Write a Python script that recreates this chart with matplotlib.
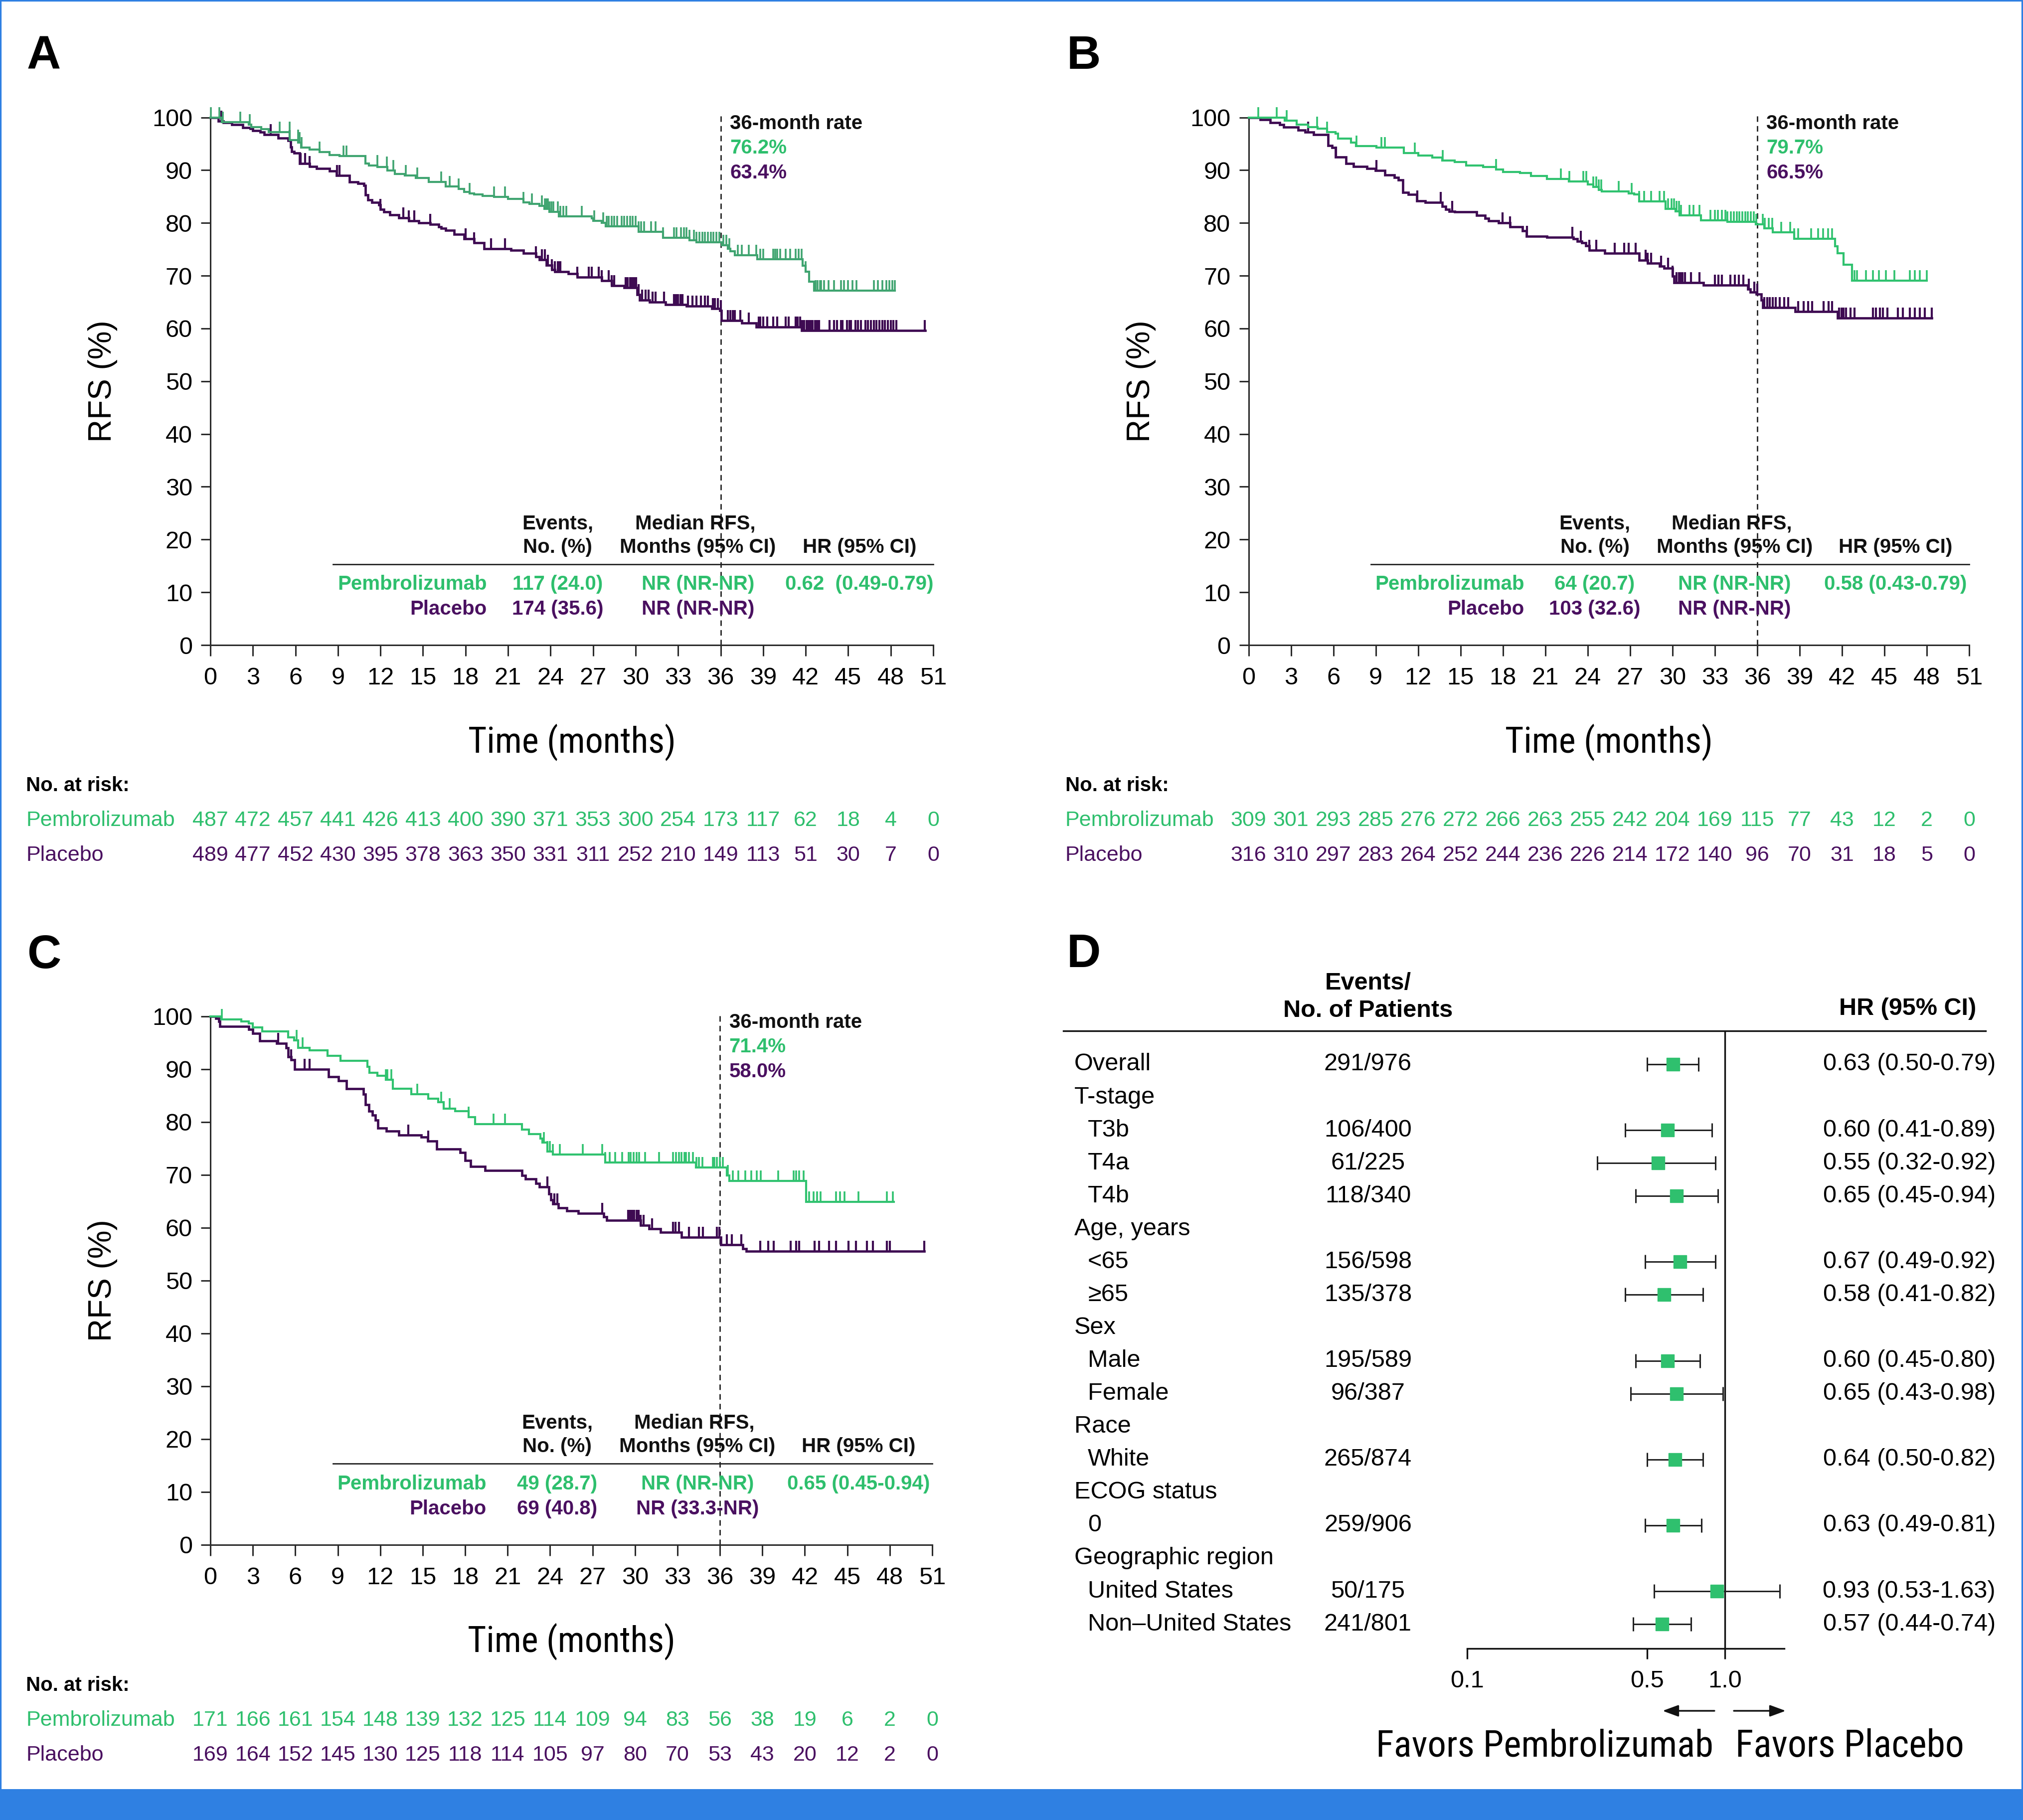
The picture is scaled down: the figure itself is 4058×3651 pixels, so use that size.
import numpy as np
import matplotlib
matplotlib.use('Agg')
import matplotlib.pyplot as plt
from matplotlib.path import Path
from matplotlib import transforms
from matplotlib import font_manager as fm
from matplotlib.patches import Rectangle, FancyArrowPatch
from matplotlib.lines import Line2D

plt.rcParams['font.family'] = ['Liberation Sans', 'DejaVu Sans']

GREEN_TXT = '#2ebf6d'
GREEN_A = '#3fa470'
GREEN = '#30c26f'
PURPLE = '#3e0b52'
PURPLE_TXT = '#4a1060'
BLUE = '#2f80e2'
AXC = '#2b2b2b'

# ---------------- data ----------------
months = list(range(0, 52, 3))

# Panel A
a_pem_t = [0.8, 2.7, 2.9, 3.6, 4.1, 5.6, 6.2, 6.4, 7.0, 7.7, 8.4, 9.1, 10.95, 11.2, 11.8, 12.5, 13.0, 13.7, 14.5, 15.4,
           16.6, 17.5, 17.9, 18.3, 18.6, 19.2, 20.0, 21.0, 22.1, 22.5, 23.2, 23.55, 23.9, 24.6, 26.9, 27.0, 27.6, 27.9,
           30.2, 31.95, 33.8, 34.3, 36.1, 36.5, 36.7, 37.0, 38.6, 41.8, 42.0, 42.25, 42.6]
a_pem_s = [99.1, 98.6, 98.2, 97.8, 97.2, 95.7, 95.2, 94.3, 93.9, 93.4, 92.9, 92.7, 91.3, 90.9, 90.6, 89.9, 89.3, 89.0,
           88.5, 87.8, 86.9, 86.4, 85.9, 85.6, 85.4, 85.1, 84.9, 84.6, 83.9, 83.6, 83.2, 82.7, 82.1, 81.2, 80.9, 80.4,
           80.0, 79.4, 78.3, 77.2, 76.7, 76.3, 75.8, 75.1, 74.6, 73.9, 73.1, 71.9, 70.8, 68.9, 67.2]
a_pem_c = [0.05, 0.65, 0.87, 2.1, 2.78, 4.9, 5.58, 6.18, 6.3, 6.45, 7.71, 9.4, 9.6, 11.77, 12.45, 12.9, 13.8, 14.6,
           16.3, 16.9, 17.5, 18.3, 20.0, 20.8, 22.1, 22.7, 23.4, 23.6, 23.7, 23.8, 23.9, 24.05, 24.2, 24.5, 24.7, 24.9,
           25.1, 26.2, 27.1, 27.7, 27.95, 28.1, 28.3, 28.5, 28.7, 29.0, 29.2, 29.4, 29.6, 29.8, 30.0, 30.2, 30.4, 30.6,
           31.1, 31.4, 31.95, 32.7, 32.9, 33.2, 33.4, 33.6, 33.8, 34.1, 34.3, 34.5, 34.7, 34.9, 35.1, 35.3, 35.5, 35.7,
           35.9, 36.2, 36.4, 36.6, 37.2, 37.5, 38.0, 38.5, 38.8, 39.0, 39.7, 39.85, 40.0, 40.2, 40.6, 40.9, 41.3, 41.5,
           41.7, 42.0, 42.7, 42.85, 43.0, 43.1, 43.3, 43.6, 44.0, 44.5, 44.7, 45.0, 45.3, 45.6, 46.8, 47.1, 47.4, 47.7,
           47.9, 48.1, 48.3]
a_pem_end = 48.3

a_pla_t = [0.56, 0.9, 1.5, 2.3, 2.8, 3.0, 3.5, 3.8, 4.8, 5.5, 5.65, 5.75, 5.9, 6.3, 7.0, 7.5, 8.4, 8.9, 9.8, 10.4,
           10.85, 10.95, 11.1, 11.4, 11.9, 12.0, 12.25, 12.65, 13.3, 14.0, 14.7, 15.5, 16.1, 16.3, 16.6, 17.2, 17.9,
           18.6, 19.3, 21.2, 22.1, 22.95, 23.2, 23.7, 24.1, 24.3, 25.25, 25.9, 27.6, 28.3, 29.2, 30.1, 30.3, 31.0,
           32.1, 33.6, 35.4, 35.95, 36.05, 37.5, 38.5, 41.7]
a_pla_s = [99.3, 99.0, 98.6, 98.1, 97.9, 97.5, 97.2, 96.7, 96.1, 95.6, 94.4, 93.5, 93.2, 91.3, 90.7, 90.3, 89.8, 89.0,
           87.8, 87.5, 87.1, 85.3, 84.4, 83.9, 83.4, 82.6, 82.1, 81.5, 81.0, 80.4, 80.0, 79.7, 79.3, 79.0, 78.6, 77.8,
           77.0, 76.2, 75.1, 74.8, 74.3, 73.6, 73.0, 72.0, 71.1, 70.8, 70.4, 69.7, 69.1, 68.1, 67.7, 66.4, 65.4, 65.0,
           64.5, 64.2, 63.8, 63.4, 61.5, 61.0, 60.3, 59.6]
a_pla_c = [0.78, 4.27, 5.6, 6.35, 6.7, 7.0, 8.94, 9.1, 12.0, 13.6, 14.0, 14.4, 15.5, 18.0, 18.6, 19.8, 20.8, 22.95,
           23.4, 23.6, 23.8, 24.1, 24.3, 24.5, 24.6, 24.7, 25.9, 26.7, 26.9, 27.4, 27.6, 28.1, 28.3, 28.5, 29.3, 29.45,
           29.6, 29.75, 29.9, 30.05, 30.2, 30.45, 30.7, 30.9, 31.2, 31.4, 32.0, 32.7, 32.85, 33.0, 33.15, 33.3, 33.7,
           34.0, 34.3, 34.6, 34.9, 35.1, 35.45, 35.6, 35.8, 36.0, 36.5, 36.7, 36.85, 37.0, 37.4, 38.0, 38.7, 38.8, 39.0,
           39.3, 39.7, 40.0, 40.6, 40.8, 41.3, 41.45, 41.6, 41.75, 41.9, 42.05, 42.2, 42.35, 42.5, 42.65, 42.8, 42.95,
           43.7, 44.0, 44.2, 44.5, 44.6, 44.9, 45.1, 45.2, 45.5, 45.7, 45.9, 46.2, 46.4, 46.6, 46.8, 47.0, 47.2, 47.4,
           47.6, 47.8, 48.0, 48.2, 48.4, 50.4]
a_pla_end = 50.45

a_risk_pem = [487, 472, 457, 441, 426, 413, 400, 390, 371, 353, 300, 254, 173, 117, 62, 18, 4, 0]
a_risk_pla = [489, 477, 452, 430, 395, 378, 363, 350, 331, 311, 252, 210, 149, 113, 51, 30, 7, 0]
a_rates = ['76.2%', '63.4%']
a_table = [['117 (24.0)', 'NR (NR-NR)', '0.62  (0.49-0.79)'], ['174 (35.6)', 'NR (NR-NR)', '']]

# Panel B
b_pem_t = [2.55, 3.4, 4.2, 4.9, 5.55, 6.14, 6.32, 7.26, 7.6, 9.05, 11.0, 12.0, 13.0, 13.7, 14.6, 15.4, 16.6, 17.5,
           18.0, 19.2, 20.0, 21.1, 22.65, 24.0, 24.4, 24.8, 25.0, 26.9, 27.3, 27.65, 29.5, 30.2, 30.5, 32.0, 33.9,
           35.9, 36.5, 37.1, 38.6, 41.5, 41.7, 42.1, 42.7]
b_pem_s = [99.4, 98.6, 98.2, 97.9, 97.2, 96.9, 96.0, 95.2, 94.6, 94.3, 93.2, 92.8, 92.4, 91.8, 91.5, 90.9, 90.6, 90.1,
           89.7, 89.5, 88.9, 88.3, 87.9, 87.3, 86.8, 86.3, 86.0, 85.6, 85.4, 84.1, 82.7, 82.2, 81.4, 80.5, 80.2, 79.7,
           79.0, 78.2, 77.0, 75.6, 74.3, 72.1, 69.1]
b_pem_c = [0.7, 2.0, 2.7, 4.86, 5.55, 7.65, 9.4, 9.65, 11.75, 13.75, 17.5, 22.1, 22.7, 23.7, 23.9, 24.4, 24.6, 24.8,
           24.95, 26.2, 27.1, 27.65, 28.0, 28.5, 29.1, 29.4, 29.7, 29.95, 30.1, 30.3, 30.45, 30.6, 31.2, 31.5, 31.9,
           32.7, 33.0, 33.2, 33.5, 33.75, 33.9, 34.15, 34.35, 34.55, 34.75, 34.95, 35.15, 35.35, 35.55, 35.75, 35.95,
           36.4, 36.55, 36.8, 37.05, 37.7, 38.35, 38.6, 38.9, 39.8, 40.3, 40.65, 41.0, 41.3, 42.9, 43.05, 43.7, 44.2,
           44.6, 45.1, 45.7, 46.8, 47.15, 47.5, 48.0]
b_pem_end = 48.0

b_pla_t = [0.84, 1.53, 2.21, 2.5, 3.5, 4.0, 4.6, 5.63, 5.9, 6.14, 6.9, 7.43, 8.37, 8.97, 9.65, 10.3, 10.6, 10.9, 11.3,
           11.9, 12.5, 13.7, 13.95, 14.2, 14.6, 16.15, 16.75, 17.0, 17.7, 18.5, 19.4, 19.65, 21.1, 23.0, 23.25, 23.6,
           23.85, 24.1, 25.2, 27.65, 28.25, 29.1, 29.4, 30.0, 30.1, 32.2, 35.35, 35.5, 35.95, 36.3, 36.4, 38.7, 41.7]
b_pla_s = [99.6, 99.0, 98.6, 98.2, 97.6, 97.2, 96.7, 94.7, 94.3, 92.5, 91.3, 90.7, 90.3, 89.9, 89.1, 88.6, 88.1, 85.8,
           85.4, 84.2, 83.9, 83.1, 82.6, 82.2, 82.1, 81.4, 80.9, 80.4, 80.0, 79.3, 78.5, 77.5, 77.3, 77.0, 76.5, 76.2,
           75.7, 74.8, 74.3, 72.9, 72.4, 71.8, 71.4, 69.9, 68.7, 68.2, 67.5, 66.9, 66.5, 65.4, 64.0, 63.2, 62.0]
b_pla_c = [4.2, 6.2, 9.05, 11.95, 13.6, 14.4, 17.98, 18.5, 19.7, 22.9, 23.5, 24.1, 24.6, 25.9, 26.6, 26.9, 27.4, 28.1,
           28.25, 28.5, 29.2, 29.7, 30.0, 30.3, 30.45, 30.6, 30.7, 30.9, 31.3, 31.9, 33.0, 33.25, 33.5, 34.1, 34.4,
           34.7, 35.0, 35.4, 35.8, 36.0, 36.5, 36.7, 36.9, 37.1, 37.3, 37.6, 37.9, 38.2, 38.9, 39.3, 39.6, 39.9, 40.7,
           41.05, 41.3, 41.8, 41.95, 42.1, 42.3, 42.6, 42.9, 44.2, 44.4, 44.7, 44.9, 45.2, 45.95, 46.3, 46.8, 47.15,
           47.5, 47.85, 48.35]
b_pla_end = 48.35

b_risk_pem = [309, 301, 293, 285, 276, 272, 266, 263, 255, 242, 204, 169, 115, 77, 43, 12, 2, 0]
b_risk_pla = [316, 310, 297, 283, 264, 252, 244, 236, 226, 214, 172, 140, 96, 70, 31, 18, 5, 0]
b_rates = ['79.7%', '66.5%']
b_table = [['64 (20.7)', 'NR (NR-NR)', '0.58 (0.43-0.79)'], ['103 (32.6)', 'NR (NR-NR)', '']]

# Panel C
c_pem_t = [0.76, 2.2, 2.7, 2.98, 3.66, 5.5, 5.9, 6.2, 7.0, 8.27, 9.2, 11.1, 11.25, 11.8, 12.4, 12.9, 14.2, 15.4, 16.1,
           16.5, 17.3, 18.25, 18.7, 22.0, 22.5, 23.3, 23.45, 23.8, 24.2, 27.9, 34.3, 36.5, 36.65, 42.1]
c_pem_s = [99.4, 99.0, 98.6, 97.9, 97.1, 96.0, 95.4, 94.0, 93.5, 92.5, 91.6, 90.4, 89.3, 88.7, 88.0, 86.3, 85.2, 84.4,
           83.7, 82.5, 82.0, 80.9, 79.6, 78.5, 77.7, 76.8, 76.05, 74.4, 73.8, 72.3, 71.4, 69.9, 68.8, 64.9]
c_pem_c = [0.8, 6.1, 6.5, 12.4, 12.5, 12.8, 14.6, 16.3, 16.9, 18.25, 20.0, 20.8, 23.55, 23.8, 24.0, 24.2, 24.7, 26.3,
           27.7, 27.9, 28.2, 28.6, 29.1, 29.55, 29.7, 29.9, 30.1, 30.3, 30.7, 31.7, 32.7, 32.9, 33.1, 33.3, 33.5, 33.6,
           33.8, 34.1, 34.35, 34.5, 34.75, 35.5, 35.6, 35.8, 36.0, 36.2, 36.55, 36.9, 37.3, 37.8, 38.2, 38.6, 38.9,
           40.1, 41.2, 41.4, 41.6, 41.9, 42.3, 42.6, 42.85, 43.1, 44.2, 44.5, 44.8, 45.8, 47.8, 48.2]
c_pem_end = 48.3

c_pla_t = [0.4, 0.6, 0.68, 2.7, 2.98, 3.5, 4.7, 5.37, 5.5, 5.7, 5.96, 8.35, 9.04, 9.6, 10.8, 10.95, 11.2, 11.45, 11.65,
           11.85, 12.45, 13.3, 14.9, 15.35, 16.0, 17.65, 18.0, 18.4, 19.4, 22.0, 22.25, 23.0, 23.25, 23.9, 24.05, 24.2,
           24.6, 25.2, 26.0, 27.8, 28.0, 30.4, 31.0, 31.8, 33.3, 36.05, 37.6, 37.85]
c_pla_s = [99.55, 99.0, 98.1, 97.5, 96.75, 95.3, 94.9, 94.0, 92.3, 91.7, 90.0, 88.5, 87.8, 86.3, 85.2, 83.3, 82.0,
           81.3, 80.3, 78.8, 78.3, 77.5, 77.1, 76.4, 74.9, 74.2, 72.7, 71.6, 70.8, 69.9, 69.2, 68.4, 67.7, 66.35, 65.2,
           64.5, 63.7, 63.2, 62.7, 62.05, 61.4, 60.4, 59.8, 59.1, 58.15, 56.8, 56.0, 55.5]
c_pla_c = [4.8, 5.7, 6.65, 7.0, 14.0, 15.4, 23.8, 24.3, 24.5, 27.7, 29.5, 29.65, 29.8, 29.95, 30.1, 30.25, 30.4, 30.6,
           31.2, 32.7, 32.85, 33.1, 33.8, 34.5, 34.8, 35.8, 35.95, 36.5, 36.85, 37.5, 38.85, 39.4, 39.8, 41.0, 41.4,
           41.6, 42.7, 43.0, 43.7, 44.2, 45.1, 45.6, 46.4, 46.8, 47.8, 48.0, 50.45]
c_pla_end = 50.45

c_risk_pem = [171, 166, 161, 154, 148, 139, 132, 125, 114, 109, 94, 83, 56, 38, 19, 6, 2, 0]
c_risk_pla = [169, 164, 152, 145, 130, 125, 118, 114, 105, 97, 80, 70, 53, 43, 20, 12, 2, 0]
c_rates = ['71.4%', '58.0%']
c_table = [['49 (28.7)', 'NR (NR-NR)', '0.65 (0.45-0.94)'], ['69 (40.8)', 'NR (33.3-NR)', '']]

# Panel D (forest)
fp_labels = ["Overall", "T-stage", "T3b", "T4a", "T4b", "Age, years", "<65", "\u226565", "Sex", "Male", "Female",
             "Race", "White", "ECOG status", "0", "Geographic region", "United States", "Non\u2013United States"]
fp_indent = [0, 0, 1, 1, 1, 0, 1, 1, 0, 1, 1, 0, 1, 0, 1, 0, 1, 1]
fp_events = ["291/976", "", "106/400", "61/225", "118/340", "", "156/598", "135/378", "", "195/589", "96/387", "",
             "265/874", "", "259/906", "", "50/175", "241/801"]
fp_hr = [0.63, None, 0.60, 0.55, 0.65, None, 0.67, 0.58, None, 0.60, 0.65, None, 0.64, None, 0.63, None, 0.93, 0.57]
fp_lo = [0.50, None, 0.41, 0.32, 0.45, None, 0.49, 0.41, None, 0.45, 0.43, None, 0.50, None, 0.49, None, 0.53, 0.44]
fp_hi = [0.79, None, 0.89, 0.92, 0.94, None, 0.92, 0.82, None, 0.80, 0.98, None, 0.82, None, 0.81, None, 1.63, 0.74]


# ---------------- condensed font lookup ----------------
def pick_condensed():
    for fam in ['Liberation Sans Narrow', 'Roboto Condensed', 'Open Sans Condensed', 'Noto Sans Condensed',
                'DejaVu Sans Condensed', 'Arial Narrow']:
        try:
            p = fm.findfont(fm.FontProperties(family=fam), fallback_to_default=False)
            return fm.FontProperties(fname=p)
        except Exception:
            pass
    for fam in ['Noto Sans', 'Roboto', 'Open Sans', 'DejaVu Sans', 'Liberation Sans']:
        try:
            p = fm.findfont(fm.FontProperties(family=fam, stretch='condensed'), fallback_to_default=False)
            if 'ondensed' in p or 'arrow' in p:
                return fm.FontProperties(fname=p)
        except Exception:
            pass
    for f in fm.fontManager.ttflist:
        nm = (f.fname + f.name).lower()
        if ('condensed' in nm or 'narrow' in nm) and 'bold' not in nm and 'italic' not in nm \
                and 'light' not in nm and 'thin' not in nm and 'black' not in nm and 'medium' not in nm \
                and 'semi' not in nm and 'extra' not in nm and 'mono' not in nm:
            return fm.FontProperties(fname=f.fname)
    return fm.FontProperties(family='Liberation Sans')


CONDENSED = pick_condensed()

# ---------------- figure ----------------
W, H = 4058, 3651
fig = plt.figure(figsize=(W / 100, H / 100), dpi=100)
renderer = fig.canvas.get_renderer()


def fx(px):
    return px / W


def fy(py):
    return 1 - py / H


def fit_text(x, y, s, width_px, size, **kw):
    t = fig.text(x, y, s, fontproperties=CONDENSED.copy(), **kw)
    t.set_fontsize(size)
    w = t.get_window_extent(renderer).width
    if w > 0:
        t.set_fontsize(min(size * 1.25, size * width_px / w))
    return t


CENS = Path([(0, 0), (0, 1)])


def draw_arm(ax, t, s, c, end, color, lw, tick_lw):
    n = min(len(t), len(s))
    t = list(t[:n]); s = list(s[:n])
    xs = [0] + t + [end]
    ys = [100] + s + [s[-1]]
    ax.step(xs, ys, where='post', color=color, lw=lw, clip_on=False, zorder=3, solid_joinstyle='miter')
    lev = np.concatenate([[100.0], np.array(s)])
    idx = np.searchsorted(np.array(t), np.array(c), side='right')
    cy = lev[idx]
    ax.plot(c, cy, ls='none', marker=CENS, ms=30, mew=tick_lw, color=color, clip_on=False, zorder=3)


def km_panel(x0px, y100px, y0px, x51px, letter, letter_xy, pem, pla, gcol, rates, table, risk_pem, risk_pla, lab_x):
    ax = fig.add_axes([fx(x0px), fy(y0px), fx(x51px) - fx(x0px), fy(y100px) - fy(y0px)])
    ax.set_xlim(0, 51)
    ax.set_ylim(0, 100)
    for sp in ['top', 'right']:
        ax.spines[sp].set_visible(False)
    for sp in ['left', 'bottom']:
        ax.spines[sp].set_linewidth(2.2)
        ax.spines[sp].set_color(AXC)
    ax.set_xticks(months)
    ax.set_yticks(range(0, 101, 10))
    ax.tick_params(axis='y', length=14, width=2.2, color=AXC, pad=12, labelsize=35)
    ax.tick_params(axis='x', length=16, width=2.2, color=AXC, pad=16, labelsize=35)
    ax.patch.set_alpha(0)

    draw_arm(ax, *pla, PURPLE, 3.4, 3.0)
    draw_arm(ax, *pem, gcol, 3.0, 2.6)

    ax.plot([36, 36], [0, 100.4], color='#222222', lw=2.0, ls=(0, (4, 3)), clip_on=False, zorder=2)

    ax.text(36.65, 97.8, '36-month rate', fontsize=29, weight='bold', color='#111111', ha='left', va='baseline')
    ax.text(36.65, 93.15, rates[0], fontsize=29, weight='bold', color=GREEN_TXT, ha='left', va='baseline')
    ax.text(36.65, 88.45, rates[1], fontsize=29, weight='bold', color=PURPLE_TXT, ha='left', va='baseline')

    hk = dict(fontsize=29, weight='bold', color='#111111', va='baseline', ha='center')
    ax.text(24.5, 22.0, 'Events,', **hk)
    ax.text(24.5, 17.5, 'No. (%)', **hk)
    ax.text(34.2, 22.0, 'Median RFS,', **hk)
    ax.text(34.4, 17.5, 'Months (95% CI)', **hk)
    ax.text(45.8, 17.5, 'HR (95% CI)', **hk)
    ax.plot([8.65, 51], [15.35, 15.35], color='#222222', lw=2.0, clip_on=False)
    for row, (name, col, yb) in enumerate([('Pembrolizumab', GREEN_TXT, 10.45), ('Placebo', PURPLE_TXT, 5.75)]):
        ax.text(19.5, yb, name, fontsize=29, weight='bold', color=col, ha='right', va='baseline')
        vals = table[row]
        ax.text(24.5, yb, vals[0], fontsize=29, weight='bold', color=col, ha='center', va='baseline')
        ax.text(34.4, yb, vals[1], fontsize=29, weight='bold', color=col, ha='center', va='baseline')
        if vals[2]:
            ax.text(45.8, yb, vals[2], fontsize=29, weight='bold', color=col, ha='center', va='baseline')

    # axis labels
    fig.text(fx(x0px - 216), (fy(y0px) + fy(y100px)) / 2, 'RFS (%)', fontsize=46, rotation=90,
             ha='center', va='center')
    fit_text((fx(x0px) + fx(x51px)) / 2, fy(y0px + 215), 'Time (months)', 417, 55,
             ha='center', va='baseline')

    # panel letter
    fig.text(fx(letter_xy[0]), fy(letter_xy[1]), letter, fontsize=68, weight='bold', ha='left', va='baseline')

    # at risk
    tr = transforms.blended_transform_factory(ax.transData, fig.transFigure)
    fig.text(fx(lab_x), fy(y0px + 293), 'No. at risk:', fontsize=29, weight='bold', ha='left', va='baseline')
    fig.text(fx(lab_x), fy(y0px + 363), 'Pembrolizumab', fontsize=31, color=GREEN_TXT, ha='left', va='baseline')
    fig.text(fx(lab_x), fy(y0px + 433), 'Placebo', fontsize=31, color=PURPLE_TXT, ha='left', va='baseline')
    for m, v1, v2 in zip(months, risk_pem, risk_pla):
        ax.text(m, fy(y0px + 363), str(v1), fontsize=31, color=GREEN_TXT, ha='center', va='baseline', transform=tr)
        ax.text(m, fy(y0px + 433), str(v2), fontsize=31, color=PURPLE_TXT, ha='center', va='baseline', transform=tr)
    return ax


km_panel(422, 235.5, 1294, 1872, 'A', (54, 138),
         (a_pem_t, a_pem_s, a_pem_c, a_pem_end), (a_pla_t, a_pla_s, a_pla_c, a_pla_end),
         GREEN_A, a_rates, a_table, a_risk_pem, a_risk_pla, 52)
km_panel(2504.6, 235.5, 1294, 3950, 'B', (2140, 138),
         (b_pem_t, b_pem_s, b_pem_c, b_pem_end), (b_pla_t, b_pla_s, b_pla_c, b_pla_end),
         GREEN, b_rates, b_table, b_risk_pem, b_risk_pla, 2137)
km_panel(422, 2038.5, 3098.7, 1870, 'C', (54, 1942),
         (c_pem_t, c_pem_s, c_pem_c, c_pem_end), (c_pla_t, c_pla_s, c_pla_c, c_pla_end),
         GREEN, c_rates, c_table, c_risk_pem, c_risk_pla, 52)

# ---------------- Panel D ----------------
fig.text(fx(2140), fy(1940), 'D', fontsize=68, weight='bold', ha='left', va='baseline')
axF = fig.add_axes([fx(2943), fy(3307), fx(3579) - fx(2943), fy(2068) - fy(3307)])
axF.set_xscale('log')
axF.set_xlim(0.1, 1.698)
axF.set_ylim(17.74, -1.014)
axF.patch.set_alpha(0)
for sp in ['top', 'right', 'left']:
    axF.spines[sp].set_visible(False)
axF.spines['bottom'].set_linewidth(2.4)
axF.spines['bottom'].set_color('#111111')
axF.set_yticks([])
axF.set_xticks([0.1, 0.5, 1.0])
axF.set_xticklabels(['0.1', '0.5', '1.0'])
axF.xaxis.set_minor_locator(matplotlib.ticker.NullLocator())
axF.tick_params(axis='x', length=15, width=2.4, color='#111111', labelsize=35, pad=16)
axF.axvline(1.0, color='#111111', lw=2.4, zorder=1)

for i, (h, lo, hi) in enumerate(zip(fp_hr, fp_lo, fp_hi)):
    if h is None:
        continue
    axF.errorbar([h], [i], xerr=[[h - lo], [hi - h]], fmt='none', ecolor='#222222', elinewidth=2.2,
                 capsize=10, capthick=2.2, zorder=2)
    axF.plot([h], [i], marker='s', ms=19, color='#2fc06e', mec='#2fc06e', zorder=3, clip_on=False)

trF = transforms.blended_transform_factory(fig.transFigure, axF.transData)
for i, (lab, ind, ev, h, lo, hi) in enumerate(zip(fp_labels, fp_indent, fp_events, fp_hr, fp_lo, fp_hi)):
    fig.text(fx(2182) if ind else fx(2155), i, lab, fontsize=35, ha='left', va='center', transform=trF)
    if ev:
        fig.text(fx(2744), i, ev, fontsize=35, ha='center', va='center', transform=trF)
    if h is not None:
        fig.text(fx(4003), i, f'{h:.2f} ({lo:.2f}-{hi:.2f})', fontsize=35, ha='right', va='center',
                 transform=trF)

fig.text(fx(2744), fy(1985), 'Events/', fontsize=35, weight='bold', ha='center', va='baseline')
fig.text(fx(2744), fy(2040), 'No. of Patients', fontsize=35, weight='bold', ha='center', va='baseline')
fig.text(fx(3964), fy(2036), 'HR (95% CI)', fontsize=35, weight='bold', ha='right', va='baseline')
fig.add_artist(Line2D([fx(2133), fx(3983)], [fy(2068), fy(2068)], lw=2.4, color='#111111'))

arrow_kw = dict(arrowstyle='-|>,head_length=0.6,head_width=0.22', mutation_scale=32, lw=2.4,
                color='#111111', shrinkA=0, shrinkB=0)
fig.add_artist(FancyArrowPatch((fx(3439), fy(3432)), (fx(3335), fy(3432)),
                               transform=fig.transFigure, **arrow_kw))
fig.add_artist(FancyArrowPatch((fx(3478), fy(3432)), (fx(3582), fy(3432)),
                               transform=fig.transFigure, **arrow_kw))
fit_text(fx(3437), fy(3524), 'Favors Pembrolizumab', 676, 57, ha='right', va='baseline')
fit_text(fx(3481), fy(3524), 'Favors Placebo', 459, 57, ha='left', va='baseline')

# frame and bottom bar
fig.add_artist(Rectangle((0, 0), 1, 1, transform=fig.transFigure, fill=False, edgecolor=BLUE, lw=4.5))
fig.add_artist(Rectangle((0, 0), 1, 62 / H, transform=fig.transFigure, facecolor=BLUE, edgecolor='none'))

fig.savefig('out.png', dpi=100, facecolor='white')
